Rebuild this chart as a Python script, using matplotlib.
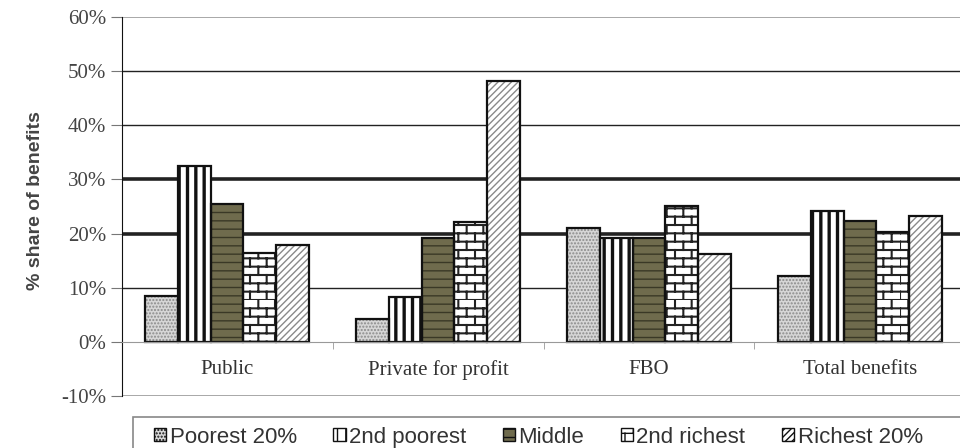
import numpy as np
import matplotlib
matplotlib.use("Agg")
import matplotlib.pyplot as plt
import matplotlib.hatch as mhatch
from matplotlib.path import Path
from matplotlib.patches import Patch, Rectangle
import warnings

warnings.filterwarnings("ignore")

categories = ["Public", "Private for profit", "FBO", "Total benefits"]
series = ["Poorest 20%", "2nd poorest", "Middle", "2nd richest", "Richest 20%"]
poorest = [8.5, 4.2, 21.1, 12.2]
second_poorest = [32.5, 8.2, 19.1, 24.2]
middle = [25.5, 19.1, 19.1, 22.3]
second_richest = [16.5, 22.2, 25.1, 20.2]
richest = [17.8, 48.2, 16.2, 23.3]
values = [poorest, second_poorest, middle, second_richest, richest]


# brick hatch ('B') - matplotlib has none, so register one
class BrickHatch(mhatch.HatchPatternBase):
    rows = 12
    cols = 6

    def __init__(self, hatch, density):
        self.on = 'B' in hatch
        self.num_vertices = (self.rows * 2 + self.rows * self.cols * 2) if self.on else 0

    def set_vertices_and_codes(self, vertices, codes):
        k = 0
        for i in range(self.rows):
            y0 = i / self.rows
            y1 = (i + 1) / self.rows
            vertices[k] = (0, y0); codes[k] = Path.MOVETO
            vertices[k + 1] = (1, y0); codes[k + 1] = Path.LINETO
            k += 2
            for j in range(self.cols):
                x = ((j + 0.5 * (i % 2)) / self.cols) % 1.0
                vertices[k] = (x, y0); codes[k] = Path.MOVETO
                vertices[k + 1] = (x, y1); codes[k + 1] = Path.LINETO
                k += 2


mhatch._hatch_types.append(BrickHatch)

# fill, hatch, hatch colour, hatch linewidth
styles = [
    ('#d6d6d6', '.....', '#8a8a8a', 1.0),
    ('white', '||', '#111111', 2.4),
    ('#6f6b4d', '--', '#3a3826', 1.0),
    ('white', 'B', '#222222', 1.5),
    ('white', '/////', '#8a8a8a', 1.0),
]

fig = plt.figure(figsize=(9.6, 4.48), dpi=100)
ax = fig.add_axes([121.5 / 960, 1 - 396 / 448, 844 / 960, 379 / 448])

x = np.arange(len(categories))
width = 0.155
offsets = (np.arange(len(series)) - 2) * width

# gridlines
for g in [10, 40, 50]:
    ax.axhline(g, color='#222222', lw=1.0, zorder=0)
for g in [20, 30]:
    ax.axhline(g, color='#222222', lw=2.6, zorder=0)
ax.axhline(60, color='#999999', lw=1.2, zorder=0)
ax.axhline(-10, color='#999999', lw=1.2, zorder=0)

for vals, off, (fc, hatch, hc, hlw) in zip(values, offsets, styles):
    with plt.rc_context({'hatch.linewidth': hlw}):
        bars = ax.bar(x + off, vals, width, color=fc, edgecolor=hc, hatch=hatch, lw=0, zorder=2)
    for b in bars:
        if hasattr(b, 'set_hatch_linewidth'):
            b.set_hatch_linewidth(hlw)
    ax.bar(x + off, vals, width, fill=False, edgecolor='#111111', lw=1.6, zorder=3)

ax.set_ylim(-10, 60)
ax.set_xlim(-0.5, len(categories) - 0.5)
ax.set_yticks(range(-10, 61, 10))
ax.set_yticklabels([f"{t}%" for t in range(-10, 61, 10)],
                   family='Liberation Serif', fontsize=15, color='#444444')
ax.tick_params(axis='y', length=8, color='#777777', pad=3)

ax.spines['top'].set_visible(False)
ax.spines['right'].set_visible(False)
ax.spines['left'].set_color('#111111')
ax.spines['bottom'].set_position(('data', 0))
ax.spines['bottom'].set_color('#999999')
ax.spines['bottom'].set_zorder(4)

ax.set_xticks(x)
ax.set_xticklabels(categories, family='Liberation Serif', fontsize=15, color='#333333')
ax.tick_params(axis='x', which='major', length=0, pad=13)
ax.set_xticks(x[:-1] + 0.5, minor=True)
ax.tick_params(axis='x', which='minor', length=5, color='#999999')

ax.set_ylabel("% share of benefits", family='Liberation Sans', fontweight='bold',
              fontsize=14, color='#444444')
ax.yaxis.set_label_coords(-0.092, 0.516)

# legend box
fig.patches.append(Rectangle((132.5 / 960, -0.01), 1, 31 / 448 + 0.01, transform=fig.transFigure,
                             fill=False, edgecolor='#888888', lw=1.2))
handles = [Patch(facecolor=fc, edgecolor='#111111', hatch=h, lw=1.0)
           for fc, h, hc, hlw in styles]
fig.legend(handles, series, loc='center left', bbox_to_anchor=(134 / 960, 11 / 448),
           ncol=5, frameon=False, prop={'family': 'Liberation Sans', 'size': 16},
           handlelength=0.55, handleheight=0.55, handletextpad=0.15, columnspacing=1.65,
           labelcolor='#333333')

fig.savefig("out.png", dpi=100)
